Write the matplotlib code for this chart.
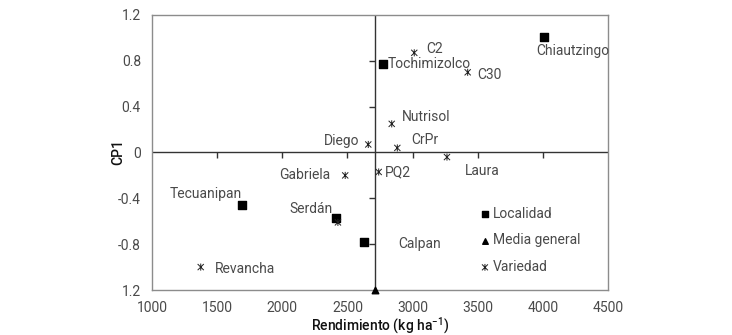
import matplotlib
matplotlib.use("Agg")
import matplotlib.pyplot as plt
from matplotlib.path import Path

plt.rcParams['font.family'] = ['Roboto', 'DejaVu Sans']

# Data
loc_names = ["Chiautzingo", "Tochimizolco", "Tecuanipan", "Serdán", "Calpan"]
loc_x = [4005, 2773, 1690, 2415, 2630]
loc_y = [1.01, 0.77, -0.46, -0.57, -0.78]

var_names = ["C2", "C30", "Nutrisol", "CrPr", "Laura", "Diego", "PQ2", "Gabriela", "", "Revancha"]
var_x = [3013, 3423, 2840, 2883, 3264, 2660, 2740, 2483, 2427, 1374]
var_y = [0.87, 0.70, 0.25, 0.04, -0.04, 0.07, -0.17, -0.20, -0.61, -1.00]

media_x = 2710
media_y = -1.2

xticks = [1000, 1500, 2000, 2500, 3000, 3500, 4000, 4500]
yticks = [-1.2, -0.8, -0.4, 0, 0.4, 0.8, 1.2]
ytick_labels = ["1.2", "-0.8", "-0.4", "0", "0.4", "0.8", "1.2"]

# label offsets (pixels) and alignment
loc_off = {"Chiautzingo": (-7, -14, 'left'), "Tochimizolco": (5, 0, 'left'),
           "Tecuanipan": (0, 11, 'right'), "Serdán": (-4, 9, 'right'),
           "Calpan": (34, -2, 'left')}
var_off = {"C2": (12, 4, 'left'), "C30": (10, -3, 'left'), "Nutrisol": (10, 7, 'left'),
           "CrPr": (14, 8, 'left'), "Laura": (18, -14, 'left'), "Diego": (-9, 3, 'right'),
           "PQ2": (6, 0, 'left'), "Gabriela": (-15, 0, 'right'), "Revancha": (14, -2, 'left')}

fig = plt.figure(figsize=(7.32, 3.35), dpi=100)
ax = fig.add_axes([152/732, 1-290/335, 456/732, 275/335])

star = Path([(-1, -1), (1, 1), (-1, 1), (1, -1), (0, -1.15), (0, 1.15)],
            [Path.MOVETO, Path.LINETO, Path.MOVETO, Path.LINETO, Path.MOVETO, Path.LINETO])

txtc = '#4a4a4a'
fw = 'normal'
ax.axhline(0, color='#333333', lw=1, zorder=1)
ax.axvline(media_x, color='#333333', lw=1, zorder=1)
# tick marks on the crossing axes
ax.plot([t for t in xticks[1:-1]], [0]*6, linestyle='none', marker=3, markersize=4,
        color='#333333', mew=1, zorder=1)
ax.plot([media_x]*4, [-0.8, -0.4, 0.4, 0.8], linestyle='none', marker=0, markersize=4,
        color='#333333', mew=1, zorder=1)

ax.scatter(loc_x, loc_y, marker='s', s=30, color='black', zorder=3, label='Localidad')
ax.scatter([media_x], [media_y], marker='^', s=22, color='black', zorder=3,
           clip_on=False, label='Media general')
ax.scatter(var_x, var_y, marker=star, s=26, facecolors='none', edgecolors='#222222',
           linewidths=0.7, zorder=3, label='Variedad')

fs = 10
for n, x, y in zip(loc_names, loc_x, loc_y):
    dx, dy, ha = loc_off[n]
    ax.annotate(n, (x, y), xytext=(dx*0.72, dy*0.72), textcoords='offset points',
                ha=ha, va='center', fontsize=fs, color=txtc, fontweight=fw)
for n, x, y in zip(var_names, var_x, var_y):
    if not n:
        continue
    dx, dy, ha = var_off[n]
    ax.annotate(n, (x, y), xytext=(dx*0.72, dy*0.72), textcoords='offset points',
                ha=ha, va='center', fontsize=fs, color=txtc, fontweight=fw)

ax.set_xlim(1000, 4500)
ax.set_ylim(-1.2, 1.2)
ax.set_xticks(xticks)
ax.set_yticks(yticks)
ax.set_yticklabels(ytick_labels)
ax.tick_params(length=0, pad=8, labelsize=fs, labelcolor=txtc)
for lab in ax.get_xticklabels() + ax.get_yticklabels():
    lab.set_fontweight(fw)
for s in ax.spines.values():
    s.set_color('#8c8c8c')
    s.set_linewidth(1)

ax.set_xlabel('Rendimiento (kg ha$^{\\mathregular{-1}}$)', fontsize=fs, fontweight='medium',
              color='#111111', labelpad=0)
ax.set_ylabel('CP1', fontsize=fs, fontweight='medium', color='#111111', labelpad=-5)

leg = ax.legend(loc='upper left', bbox_to_anchor=((478-152)/456, (290-207)/275), frameon=False,
                fontsize=fs, handletextpad=0.1, labelspacing=0.9, handlelength=1.0,
                borderpad=0, borderaxespad=0)
hs = leg.legend_handles
hs[0].set_sizes([18])
hs[1].set_sizes([16])
hs[2].set_sizes([24])
for t in leg.get_texts():
    t.set_color(txtc)
    t.set_fontweight(fw)

fig.savefig('out.png', dpi=100)
